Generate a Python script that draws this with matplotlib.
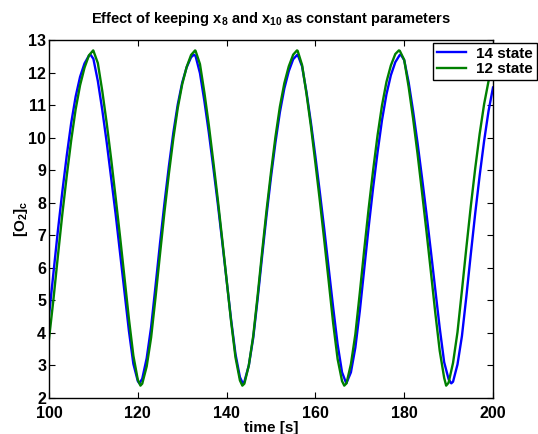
import matplotlib
matplotlib.use("Agg")
import matplotlib.pyplot as plt

plt.rcParams['font.family'] = ['Liberation Sans', 'DejaVu Sans']
plt.rcParams['font.weight'] = 'bold'
plt.rcParams['mathtext.fontset'] = 'custom'
plt.rcParams['mathtext.rm'] = 'Liberation Sans:bold'
plt.rcParams['mathtext.it'] = 'Liberation Sans:bold'
plt.rcParams['mathtext.bf'] = 'Liberation Sans:bold'
plt.rcParams['mathtext.default'] = 'bf'

# 14 state model (blue)
t_14 = [100, 101, 102, 103, 104, 105, 106, 107, 108, 109, 109.35,
        110, 111, 112, 113, 114, 115, 116, 117, 118, 119, 120, 120.35,
        121, 122, 123, 124, 125, 126, 127, 128, 129, 130, 131, 132, 132.65,
        133, 134, 135, 136, 137, 138, 139, 140, 141, 142, 143, 143.65,
        144, 145, 146, 147, 148, 149, 150, 151, 152, 153, 154, 155, 155.95,
        156, 157, 158, 159, 160, 161, 162, 163, 164, 165, 166, 166.95,
        167, 168, 169, 170, 171, 172, 173, 174, 175, 176, 177, 178, 179, 179.25,
        180, 181, 182, 183, 184, 185, 186, 187, 188, 189, 190, 190.6,
        191, 192, 193, 194, 195, 196, 197, 198, 199, 200]
o2_14 = [4.54, 5.84, 7.14, 8.34, 9.45, 10.45, 11.26, 11.87, 12.28, 12.52, 12.55,
         12.42, 11.74, 10.85, 9.85, 8.76, 7.66, 6.46, 5.26, 4.06, 3.05, 2.52, 2.45,
         2.59, 3.22, 4.18, 5.45, 6.75, 7.98, 9.12, 10.15, 11.02, 11.69, 12.16, 12.47, 12.55,
         12.51, 11.98, 11.12, 10.15, 9.09, 7.99, 6.82, 5.62, 4.42, 3.35, 2.64, 2.45,
         2.50, 3.00, 3.85, 5.06, 6.36, 7.62, 8.79, 9.85, 10.78, 11.51, 12.04, 12.41, 12.55,
         12.55, 12.19, 11.39, 10.45, 9.42, 8.32, 7.18, 5.98, 4.78, 3.65, 2.79, 2.45,
         2.46, 2.79, 3.55, 4.67, 5.97, 7.26, 8.46, 9.55, 10.54, 11.33, 11.92, 12.32, 12.54, 12.55,
         12.38, 11.70, 10.82, 9.84, 8.78, 7.68, 6.52, 5.33, 4.15, 3.10, 2.58, 2.45,
         2.50, 3.03, 3.90, 5.12, 6.42, 7.68, 8.84, 9.90, 10.82, 11.54]

# 12 state model (green)
t_12 = [100, 101, 102, 103, 104, 105, 106, 107, 108, 109, 109.95,
        110, 111, 112, 113, 114, 115, 116, 117, 118, 119, 120, 120.6,
        121, 122, 123, 124, 125, 126, 127, 128, 129, 130, 131, 132, 132.9,
        133, 134, 135, 136, 137, 138, 139, 140, 141, 142, 143, 143.55,
        144, 145, 146, 147, 148, 149, 150, 151, 152, 153, 154, 155, 155.85,
        156, 157, 158, 159, 160, 161, 162, 163, 164, 165, 166, 166.5,
        167, 168, 169, 170, 171, 172, 173, 174, 175, 176, 177, 178, 178.8,
        179, 180, 181, 182, 183, 184, 185, 186, 187, 188, 189, 189.45,
        190, 191, 192, 193, 194, 195, 196, 197, 198, 199, 200]
o2_12 = [3.81, 5.03, 6.36, 7.65, 8.83, 9.92, 10.87, 11.61, 12.15, 12.53, 12.68,
         12.67, 12.29, 11.43, 10.44, 9.34, 8.17, 6.96, 5.70, 4.43, 3.30, 2.56, 2.38,
         2.44, 2.97, 3.86, 5.10, 6.42, 7.71, 8.89, 9.97, 10.91, 11.64, 12.17, 12.54, 12.68,
         12.67, 12.26, 11.38, 10.38, 9.27, 8.12, 6.89, 5.63, 4.37, 3.25, 2.54, 2.38,
         2.44, 3.00, 3.91, 5.16, 6.49, 7.77, 8.94, 10.02, 10.95, 11.67, 12.19, 12.55, 12.68,
         12.67, 12.23, 11.34, 10.34, 9.22, 8.06, 6.84, 5.58, 4.30, 3.20, 2.52, 2.38,
         2.45, 3.04, 3.96, 5.23, 6.56, 7.83, 9.00, 10.07, 10.99, 11.71, 12.22, 12.57, 12.68,
         12.67, 12.39, 11.56, 10.59, 9.51, 8.34, 7.14, 5.89, 4.62, 3.45, 2.62, 2.38,
         2.47, 3.08, 4.02, 5.30, 6.62, 7.89, 9.06, 10.12, 11.03, 11.74, 12.24]

x_ticks = [100, 120, 140, 160, 180, 200]
y_ticks = list(range(2, 14))
series_names = ['14 state', '12 state']

fig = plt.figure(figsize=(5.38, 4.34), dpi=100)
ax = fig.add_axes([49 / 538, 1 - 398 / 434, 444 / 538, 358 / 434])

ax.plot(t_14, o2_14, color=(0, 0, 1), lw=1.7, label=series_names[0])
ax.plot(t_12, o2_12, color=(0, 0.5, 0), lw=1.7, label=series_names[1])

ax.set_xlim(100, 200)
ax.set_ylim(2, 13)
ax.set_xticks(x_ticks)
ax.set_yticks(y_ticks)
ax.tick_params(direction='in', top=True, right=True, length=4, width=0.8,
               labelsize=11.5)
ax.tick_params(axis='x', pad=5.5)
ax.tick_params(axis='y', pad=2)
for s in ax.spines.values():
    s.set_linewidth(1.0)

ax.set_title(r'Effect of keeping $x_8$ and $x_{10}$ as constant parameters',
             fontsize=10.5, fontweight='bold', pad=12)
ax.set_xlabel('time [s]', fontsize=11, fontweight='bold', labelpad=0)
ax.set_ylabel(r'$[O_2]_c$', fontsize=11, fontweight='bold', labelpad=-1)

leg = ax.legend(loc='upper right', bbox_to_anchor=(537 / 538, 1 - 43 / 434),
                bbox_transform=fig.transFigure, borderaxespad=0, fancybox=False,
                framealpha=1, edgecolor='black', fontsize=11, handlelength=1.9,
                borderpad=0.25, labelspacing=0.1, handletextpad=0.7)
leg.get_frame().set_linewidth(1.0)

fig.savefig('out.png', dpi=100)
